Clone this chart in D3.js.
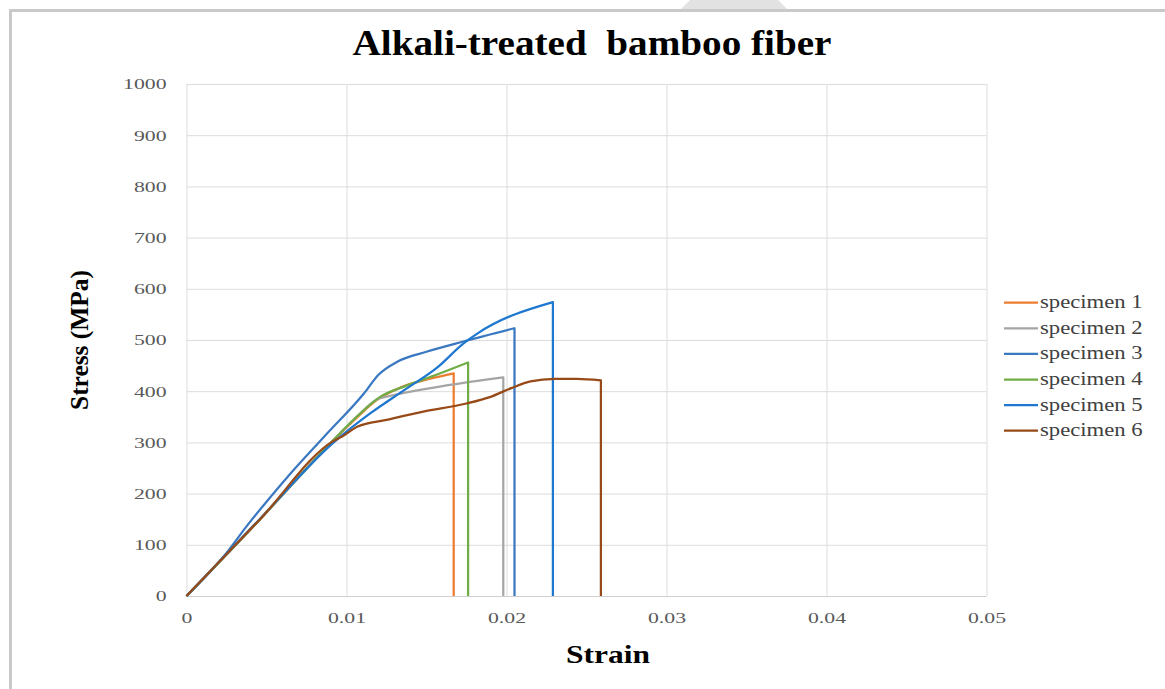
<!DOCTYPE html>
<html>
<head>
<meta charset="utf-8">
<script src="https://cdn.jsdelivr.net/npm/d3@7"></script>
<style>
  body { margin: 0; background: #fff; }
  svg { display: block; }
</style>
</head>
<body>
<script>
// values: [strain, stress (MPa)]
var specimenNames = ["specimen 1", "specimen 2", "specimen 3", "specimen 4", "specimen 5", "specimen 6"];
var specimenColors = ["#ED7D31", "#A5A5A5", "#3B78C2", "#70AD47", "#1F77CF", "#974A17"];

var specimen1 = [[0,0],[0.0046,150],[0.0092,305],[0.0107,350],[0.0119,383],[0.0136,410],[0.0153,425],[0.0167,435],[0.0167,0]];
var specimen2 = [[0,0],[0.0046,150],[0.0092,305],[0.0107,352],[0.0119,384],[0.0126,390],[0.0160,410],[0.0198,427],[0.0198,0]];
var specimen3 = [[0,0],[0.0025,84],[0.0038,138],[0.0050,184],[0.0063,232],[0.0086,311],[0.0111,396],[0.0120,432],[0.0132,458],[0.0150,477],[0.0173,497],[0.0205,523],[0.0205,0]];
var specimen4 = [[0,0],[0.0046,150],[0.0092,305],[0.0107,352],[0.0121,389],[0.0136,409],[0.0157,433],[0.0176,456],[0.0176,0]];
var specimen5 = [[0,0],[0.0046,151],[0.0092,300],[0.0115,357],[0.0136,402],[0.0157,447],[0.0173,493],[0.0182,513],[0.0229,574],[0.0229,0]];
var specimen6 = [[0,0],[0.0046,150],[0.0092,303],[0.0097,311],[0.0107,331],[0.0125,344],[0.0148,360],[0.0175,376],[0.0190,389],[0.0203,406],[0.0215,419],[0.0230,424],[0.0244,424],[0.0259,421],[0.0259,0]];
var specimens = [specimen1, specimen2, specimen3, specimen4, specimen5, specimen6];

var xTicks = [0, 0.01, 0.02, 0.03, 0.04, 0.05];
var yTicks = [0, 100, 200, 300, 400, 500, 600, 700, 800, 900, 1000];

var w = 1165, h = 689;
var serif = "'Liberation Serif', 'Times New Roman', serif";

var svg = d3.select("body").append("svg")
    .attr("width", w)
    .attr("height", h);

svg.append("rect").attr("width", w).attr("height", h).attr("fill", "#fff");

/* frame of the screenshot */
svg.append("path")
    .attr("d", "M680,10 L690,0 L778,0 L788,10 Z")
    .attr("fill", "#e2e2e2");
svg.append("path")
    .attr("d", "M10.5," + h + " L10.5,10.5 L" + w + ",10.5")
    .attr("fill", "none")
    .attr("stroke", "#c9c9c9")
    .attr("stroke-width", 3);

var xScale = d3.scaleLinear().domain([0, 0.05]).range([186.5, 986.5]);
var yScale = d3.scaleLinear().domain([0, 1000]).range([596, 84]);

// stretch text horizontally, the picture is wider than the font
function stretch(sel, k) {
  sel.each(function() {
    var len = this.getComputedTextLength();
    d3.select(this).attr("textLength", len * k).attr("lengthAdjust", "spacingAndGlyphs");
  });
}

/* grid */
svg.append("g")
   .attr("transform", "translate(0," + yScale(0) + ")")
   .call(d3.axisBottom(xScale).tickValues(xTicks).tickSize(-(yScale(0) - yScale(1000))).tickFormat(""))
   .call(g => g.select(".domain").remove())
   .call(g => g.selectAll("line").attr("stroke", "#dcdcdc"));

svg.append("g")
   .attr("transform", "translate(" + xScale(0) + ",0)")
   .call(d3.axisLeft(yScale).tickValues(yTicks).tickSize(-(xScale(0.05) - xScale(0))).tickFormat(""))
   .call(g => g.select(".domain").remove())
   .call(g => g.selectAll("line").attr("stroke", d => d === 0 ? "#cfcfcf" : "#dcdcdc"));

/* tick labels */
var xAxis = svg.append("g")
   .attr("transform", "translate(0," + yScale(0) + ")")
   .call(d3.axisBottom(xScale).tickValues(xTicks).tickSize(0).tickPadding(16).tickFormat(d => d === 0 ? "0" : d3.format(".2f")(d)));
xAxis.select(".domain").remove();
xAxis.selectAll("text")
   .attr("font-family", serif).attr("font-size", 15).attr("fill", "#595959")
   .call(stretch, 1.45);

var yAxis = svg.append("g")
   .attr("transform", "translate(" + xScale(0) + ",0)")
   .call(d3.axisLeft(yScale).tickValues(yTicks).tickSize(0).tickPadding(20).tickFormat(d3.format("d")));
yAxis.select(".domain").remove();
yAxis.selectAll("text")
   .attr("font-family", serif).attr("font-size", 15).attr("fill", "#595959")
   .call(stretch, 1.45);

/* curves: smooth part, then the vertical drop at failure */
var line = d3.line()
   .x(d => xScale(d[0]))
   .y(d => yScale(d[1]))
   .curve(d3.curveMonotoneX);

svg.append("g")
   .selectAll("path.curve")
   .data(specimens)
   .enter()
   .append("path")
   .classed("curve", true)
   .attr("d", function(d) {
     var last = d[d.length - 1];
     return line(d.slice(0, -1)) + "L" + xScale(last[0]) + "," + yScale(last[1]);
   })
   .attr("fill", "none")
   .attr("stroke", (d, i) => specimenColors[i])
   .attr("stroke-width", 2.25)
   .attr("stroke-linejoin", "round");

/* legend */
var legend = svg.append("g")
   .selectAll("g")
   .data(specimenNames)
   .enter()
   .append("g")
   .attr("transform", (d, i) => "translate(1004," + (302.7 + i * 25.6) + ")");

legend.append("line")
   .attr("x1", 0).attr("x2", 34)
   .attr("stroke", (d, i) => specimenColors[i])
   .attr("stroke-width", 2.25);

legend.append("text")
   .attr("x", 36)
   .attr("y", 5.5)
   .text(d => d)
   .attr("font-family", serif)
   .attr("font-size", 18)
   .attr("fill", "#404040")
   .call(stretch, 1.26);

/* titles */
svg.append("text")
   .attr("x", 592).attr("y", 55)
   .attr("text-anchor", "middle")
   .attr("font-family", serif).attr("font-weight", "bold").attr("font-size", 35)
   .style("white-space", "pre")
   .attr("textLength", 479).attr("lengthAdjust", "spacingAndGlyphs")
   .text("Alkali-treated  bamboo fiber");

svg.append("text")
   .attr("transform", "translate(88,340) rotate(-90)")
   .attr("text-anchor", "middle")
   .attr("font-family", serif).attr("font-weight", "bold").attr("font-size", 25)
   .attr("textLength", 140).attr("lengthAdjust", "spacingAndGlyphs")
   .text("Stress (MPa)");

svg.append("text")
   .attr("x", 608).attr("y", 663)
   .attr("text-anchor", "middle")
   .attr("font-family", serif).attr("font-weight", "bold").attr("font-size", 25)
   .attr("textLength", 84).attr("lengthAdjust", "spacingAndGlyphs")
   .text("Strain");
</script>
</body>
</html>
